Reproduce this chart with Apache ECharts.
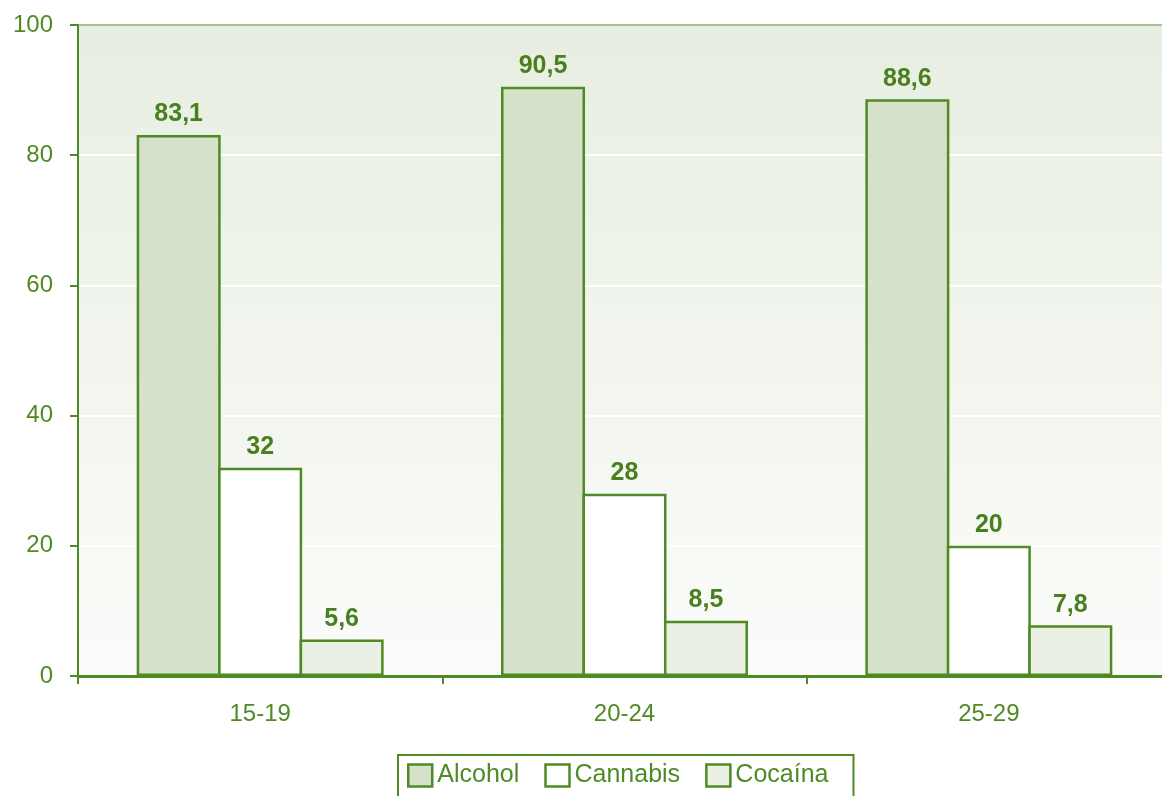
<!DOCTYPE html>
<html>
<head>
<meta charset="utf-8">
<script src="https://cdn.jsdelivr.net/npm/echarts@6/dist/echarts.min.js"></script>
<style>
html, body { margin: 0; padding: 0; background: #fff; overflow: hidden; }
/* el gráfico original está recortado por la derecha */
#chart { width: 1171px; height: 796px; }
</style>
</head>
<body>
<div id="chart"></div>
<script>
// datos
const grupos = ["15-19", "20-24", "25-29"];
const alcohol = [83.1, 90.5, 88.6];
const cannabis = [32, 28, 20];
const cocaina = [5.6, 8.5, 7.8];

const verde = "#4f8a24";
const fmt = p => String(p.value).replace(".", ",");

let chart = echarts.init(document.getElementById("chart"));

function serie(nombre, datos, relleno) {
  return {
    name: nombre,
    type: "bar",
    barWidth: 84,
    barGap: "-3%",
    data: datos,
    itemStyle: { color: relleno, borderColor: verde, borderWidth: 2.5 },
    label: {
      show: true,
      position: "top",
      distance: 8,
      formatter: fmt,
      color: "#4a7f1f",
      fontWeight: "bold",
      fontSize: 25,
      fontFamily: "Liberation Sans"
    }
  };
}

chart.setOption({
  animation: false,
  textStyle: { fontFamily: "Liberation Sans" },
  grid: {
    left: 78,
    top: 25,
    right: 0,
    bottom: 120,
    show: true,
    borderWidth: 0,
    backgroundColor: new echarts.graphic.LinearGradient(0, 0, 0, 1, [
      { offset: 0, color: "#e7eee1" },
      { offset: 1, color: "#fbfcfa" }
    ])
  },
  legend: {
    left: 398,
    top: 755,
    data: ["Alcohol", "Cannabis", "Cocaína"],
    icon: "rect",
    itemWidth: 24,
    itemHeight: 22,
    itemGap: 25,
    padding: [8, 25, 12, 9],
    borderColor: verde,
    borderWidth: 2,
    borderRadius: 0,
    itemStyle: { borderColor: verde, borderWidth: 2.5 },
    textStyle: { color: verde, fontSize: 25, fontFamily: "Liberation Sans" }
  },
  xAxis: {
    type: "category",
    data: grupos,
    axisLine: { lineStyle: { color: verde, width: 3 } },
    axisTick: { show: true, length: 8, lineStyle: { color: verde, width: 2 } },
    axisLabel: { color: verde, fontSize: 24, margin: 26 },
    splitLine: { show: false }
  },
  yAxis: {
    type: "value",
    min: 0,
    max: 100,
    interval: 20,
    axisLine: { show: true, lineStyle: { color: verde, width: 2 } },
    axisTick: { show: true, length: 8, lineStyle: { color: verde, width: 2 } },
    axisLabel: { color: verde, fontSize: 24, margin: 25 },
    splitLine: {
      lineStyle: {
        color: ["#ffffff", "#ffffff", "#ffffff", "#ffffff", "#ffffff", "#a8c393"],
        width: 2
      }
    }
  },
  series: [
    serie("Alcohol", alcohol, "#d5e1c8"),
    serie("Cannabis", cannabis, "#ffffff"),
    serie("Cocaína", cocaina, "#eaf0e3")
  ]
});
</script>
</body>
</html>
